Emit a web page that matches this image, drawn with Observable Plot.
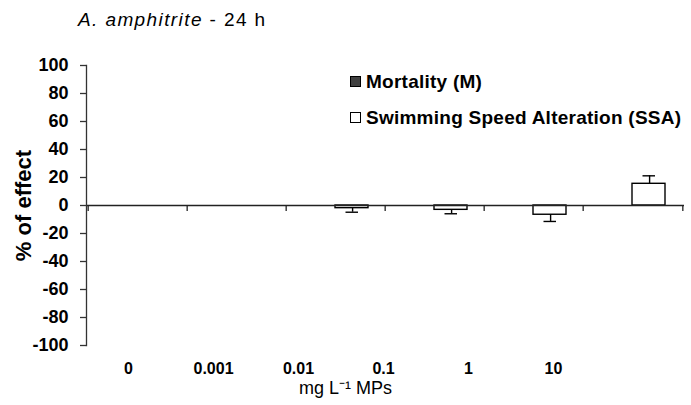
<!DOCTYPE html>
<html><head><meta charset="utf-8">
<script src="https://cdn.jsdelivr.net/npm/d3@7"></script>
<script src="https://cdn.jsdelivr.net/npm/@observablehq/plot@0.6"></script>
<style>
body{margin:0;background:#fff;font-family:"Liberation Sans",Arial,sans-serif;color:#000;}
#wrap{position:relative;width:691px;height:405px;overflow:hidden;}
#wrap svg{display:block;}
#title{position:absolute;left:78px;top:9px;font-size:19px;white-space:nowrap;letter-spacing:1.4px;}
.leg{position:absolute;left:350px;font-size:19px;font-weight:bold;white-space:nowrap;line-height:20px;letter-spacing:0.25px;}
.sw{display:inline-block;width:9px;height:9px;border:1px solid #000;margin-right:5px;vertical-align:1px;}
</style></head><body>
<div id="wrap">
  <div id="main"></div>
  <div id="labels"></div>
  <div id="title"></div>
  <div id="legend"></div>
</div>
<script>
const titleItalic = "A. amphitrite";
const titleRest = "- 24 h";
const categories = ["0", "0.001", "0.01", "0.1", "1", "10"];
const seriesNames = ["Mortality (M)", "Swimming Speed Alteration (SSA)"];
const seriesColors = ["#404040", "#ffffff"];
const mortality = [0, 0, 0, 0, 0, 0];
const ssa = [0, 0, -1.9, -3.1, -6.6, 15.5];
const ssaErr = [0, 0, 2.9, 2.8, 4.8, 5.7];
const yTicks = [-100, -80, -60, -40, -20, 0, 20, 40, 60, 80, 100];
const yTitle = "% of effect";
const xTitle = "mg L\u207B\u00B9 MPs";

const rows = categories.map((c, i) => ({c, m: mortality[i], s: ssa[i], e: ssaErr[i]}));
const errRows = rows.filter(d => d.e > 0).map(d => ({...d, end: d.s + Math.sign(d.s) * d.e}));

const W = 691, ML = 86, MR = 7;
const step = (W - ML - MR) / categories.length;
const font = "Liberation Sans, Arial, sans-serif";

const main = Plot.plot({
  width: W, height: 355,
  marginLeft: ML, marginRight: MR, marginTop: 65, marginBottom: 10,
  x: {type: "band", domain: categories, padding: 0, axis: null},
  y: {domain: [-100, 100], axis: null},
  style: {fontFamily: font, color: "#000", background: "#fff"},
  marks: [
    Plot.barY(rows, {x: "c", y: "m", fill: seriesColors[0], stroke: "#000", insetLeft: 15, insetRight: 51}),
    Plot.barY(rows, {x: "c", y: "s", fill: seriesColors[1], stroke: "#000", strokeWidth: 1.4, insetLeft: 49, insetRight: 17}),
    Plot.ruleX(errRows, {x: "c", y1: "s", y2: "end", dx: 16.6, stroke: "#000", strokeWidth: 1.4}),
    Plot.tickY(errRows, {x: "c", y: "end", insetLeft: 59.5, insetRight: 27, stroke: "#000", strokeWidth: 1.4}),
    Plot.ruleY([0], {stroke: "#222", strokeWidth: 1.3}),
    Plot.ruleX(categories, {x: d => d, y1: 0, y2: -4.3, dx: -step / 2, stroke: "#222", strokeWidth: 1.3}),
    Plot.ruleX(categories.slice(-1), {x: d => d, y1: 0, y2: -4.3, dx: step / 2, stroke: "#222", strokeWidth: 1.3}),
    Plot.frame({anchor: "left", stroke: "#333", strokeWidth: 1.3}),
    Plot.axisY({ticks: yTicks, tickFormat: d => String(d), tickSize: 6, tickPadding: 12, fontSize: 18, fontWeight: "bold", label: null, stroke: "#333", strokeWidth: 1.3}),
    Plot.text([yTitle], {frameAnchor: "left", textAnchor: "middle", lineAnchor: "middle", rotate: -90, dx: -63, fontSize: 22, fontWeight: "bold"})
  ]
});
document.getElementById("main").append(main);

const labels = Plot.plot({
  width: W, height: 50,
  marginLeft: 127, marginRight: 138, marginTop: 18, marginBottom: 0,
  x: {type: "point", domain: categories, padding: 0, axis: null},
  style: {fontFamily: font, color: "#000", background: "transparent"},
  marks: [
    Plot.axisX({anchor: "top", tickSize: 0, tickPadding: 0, fontSize: 16, fontWeight: "bold", label: null}),
    Plot.text([xTitle], {frameAnchor: "top", lineAnchor: "middle", dy: 15, dx: 5, fontSize: 18, letterSpacing: "0.4px"})
  ]
});
document.getElementById("labels").append(labels);

document.getElementById("title").innerHTML = "<i>" + titleItalic + "</i> " + titleRest;
document.getElementById("legend").innerHTML = seriesNames.map((n, i) =>
  `<div class="leg" style="top:${[72, 108][i]}px"><span class="sw" style="background:${seriesColors[i]}"></span>${n}</div>`
).join("");
</script>
</body></html>
